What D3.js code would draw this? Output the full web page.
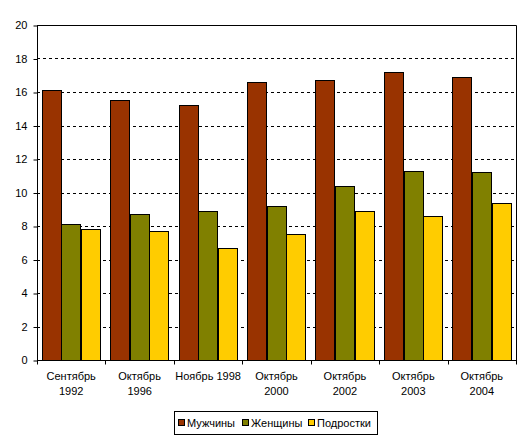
<!DOCTYPE html>
<meta charset="utf-8" />
<style>
    body { margin: 0; background: #fff; }
    text { font-family: Arial, "Liberation Sans", sans-serif; font-size: 11px; fill: #000; }
</style>
<svg width="531" height="443"></svg>
<script src="https://d3js.org/d3.v7.min.js"></script>
<script>
    // data
    var categories = [
        ["Сентябрь", "1992"],
        ["Октябрь", "1996"],
        ["Ноябрь 1998"],
        ["Октябрь", "2000"],
        ["Октябрь", "2002"],
        ["Октябрь", "2003"],
        ["Октябрь", "2004"]
    ];
    var seriesNames = ["Мужчины", "Женщины", "Подростки"];
    var men = [16.1, 15.5, 15.2, 16.6, 16.7, 17.2, 16.9];
    var women = [8.1, 8.7, 8.9, 9.2, 10.4, 11.3, 11.2];
    var teens = [7.8, 7.7, 6.7, 7.5, 8.9, 8.6, 9.4];
    var yTicks = [0, 2, 4, 6, 8, 10, 12, 14, 16, 18, 20];
    var colors = ["#993300", "#808000", "#ffcc00"];

    var svg = d3.select("svg");
    var plotLeft = 37, plotRight = 516, plotTop = 25, plotBottom = 360;

    var x = d3.scaleBand()
        .domain(d3.range(categories.length))
        .range([plotLeft, plotRight])
        .paddingInner(0)
        .paddingOuter(0);

    // gap between groups is about half a bar width
    var inner = d3.scaleBand()
        .domain(d3.range(seriesNames.length))
        .range([0, x.bandwidth()])
        .paddingOuter(0.24)
        .paddingInner(0);

    var y = d3.scaleLinear().domain([0, 20]).range([plotBottom, plotTop]);

    // dashed gridlines
    svg.append("g")
        .selectAll("line")
        .data(yTicks.filter(function (d) { return d > 0 && d < 20; }))
        .enter()
        .append("line")
        .attr("x1", plotLeft)
        .attr("x2", plotRight)
        .attr("y1", function (d) { return Math.round(y(d)) + 0.5; })
        .attr("y2", function (d) { return Math.round(y(d)) + 0.5; })
        .attr("stroke", "#000")
        .attr("stroke-dasharray", "3,3");

    // plot border (top, right)
    svg.append("path")
        .attr("d", "M" + plotLeft + "," + (plotTop + 0.5) + "H" + (plotRight + 0.5) + "V" + plotBottom)
        .attr("fill", "none")
        .attr("stroke", "#000");

    // bars
    var data = [men, women, teens];
    var groups = svg.append("g")
        .selectAll("g")
        .data(data)
        .enter()
        .append("g")
        .attr("fill", function (d, i) { return colors[i]; });

    groups.each(function (vals, si) {
        d3.select(this)
            .selectAll("rect")
            .data(vals)
            .enter()
            .append("rect")
            .attr("x", function (d, i) { return Math.round(x(i) + inner(si)) + 0.5; })
            .attr("y", function (d) { return Math.round(y(d)) + 0.5; })
            .attr("width", function () { return Math.round(inner.bandwidth()) - 1; })
            .attr("height", function (d) { return plotBottom - Math.round(y(d)); })
            .attr("stroke", "#000")
            .attr("stroke-width", 1);
    });

    // y axis
    var yAxis = svg.append("g")
        .attr("transform", "translate(" + (plotLeft + 0.5) + ",0)")
        .call(d3.axisLeft(y).tickValues(yTicks).tickSize(4).tickPadding(6).tickFormat(d3.format("d")));
    yAxis.select(".domain").attr("d", "M0," + plotTop + "V" + (plotBottom + 0.5));
    yAxis.selectAll(".tick line").attr("transform", "translate(0,0.5)");
    yAxis.selectAll("text")
        .style("font-size", "11px")
        .style("font-family", "Arial, 'Liberation Sans', sans-serif");

    // x axis
    var xAxis = svg.append("g")
        .attr("transform", "translate(0," + (plotBottom + 0.5) + ")");
    xAxis.append("line")
        .attr("x1", plotLeft).attr("x2", plotRight + 1)
        .attr("stroke", "#000");
    xAxis.selectAll(".tk")
        .data(d3.range(categories.length + 1))
        .enter()
        .append("line")
        .attr("x1", function (d) { return Math.round(plotLeft + d * x.bandwidth()) + 0.5; })
        .attr("x2", function (d) { return Math.round(plotLeft + d * x.bandwidth()) + 0.5; })
        .attr("y1", 0).attr("y2", 4)
        .attr("stroke", "#000");

    var labels = svg.append("g")
        .selectAll("text")
        .data(categories)
        .enter()
        .append("text")
        .attr("text-anchor", "middle")
        .attr("x", function (d, i) { return x(i) + x.bandwidth() / 2; });
    labels.selectAll("tspan")
        .data(function (d) { return d; })
        .enter()
        .append("tspan")
        .attr("x", function () { return d3.select(this.parentNode).attr("x"); })
        .attr("y", function (d, i) { return 380 + i * 15; })
        .text(function (d) { return d; });

    // legend
    var legend = svg.append("g");
    legend.append("rect")
        .attr("x", 174.5).attr("y", 411.5)
        .attr("width", 203).attr("height", 23)
        .attr("fill", "#fff").attr("stroke", "#000");
    var legendX = [178, 242, 308];
    seriesNames.forEach(function (name, i) {
        legend.append("rect")
            .attr("x", legendX[i] + 0.5).attr("y", 419.5)
            .attr("width", 6).attr("height", 6)
            .attr("fill", colors[i]).attr("stroke", "#000");
        legend.append("text")
            .attr("x", legendX[i] + 9)
            .attr("y", 427)
            .text(name);
    });
</script>
